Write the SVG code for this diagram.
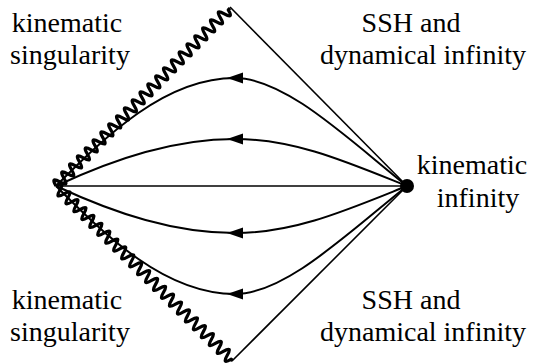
<svg xmlns="http://www.w3.org/2000/svg" width="545" height="364" viewBox="0 0 545 364">
<style>
.t{font-family:"Liberation Serif","Times New Roman",serif;font-size:28px;fill:#000;text-anchor:middle}
.ln{fill:none;stroke:#000;stroke-width:1.6}
.cv{fill:none;stroke:#000;stroke-width:2;marker-mid:url(#arr)}
.zz{fill:none;stroke:#000;stroke-width:3.2;stroke-linejoin:round}
</style>
<defs>
<marker id="arr" markerUnits="userSpaceOnUse" markerWidth="18" markerHeight="12" refX="8" refY="6" orient="auto">
<path d="M0,0.5 L16,6 L0,11.5 z" fill="#000"/>
</marker>
<path id="snake" d="M0,0 q2.8,-11 5.6,0 t5.6,0 t5.6,0 t5.6,0 t5.6,0 t5.6,0 t5.6,0 t5.6,0 t5.6,0 t5.6,0 t5.6,0 t5.6,0 t5.6,0 t5.6,0 t5.6,0 t5.6,0 t5.6,0 t5.6,0 t5.6,0 t5.6,0 t5.6,0 t5.6,0 t5.6,0 t5.6,0 t5.6,0 t5.6,0 t5.6,0 t5.6,0 t5.6,0 t5.6,0 t5.6,0 t5.6,0 t5.6,0 t5.6,0 t5.6,0 t5.6,0 t5.6,0 t5.6,0 t5.6,0 t5.6,0 t5.6,0 t5.6,0 t5.6,0 t5.6,0 L248.9,0"/>
</defs>
<g id="connectors">
<line class="ln" x1="56" y1="186" x2="407" y2="186"/>
<line class="ln" x1="230" y1="7" x2="407" y2="186"/>
<line class="ln" x1="233" y1="360" x2="407" y2="186"/>
<path class="cv" d="M407,186 C347,138 285,78 235,78 C165,78 106,136 56,186"/>
<path class="cv" d="M407,186 C347,162 295,139 235,139 C175,139 116,158 56,186"/>
<path class="cv" d="M407,186 C347,210 295,233 235,233 C175,233 116,214 56,186"/>
<path class="cv" d="M407,186 C347,234 285,294 235,294 C165,294 106,236 56,186"/>
</g>
<g id="singularity-top">
<use href="#snake" class="zz" transform="translate(56,186) rotate(-45.65)"/>
</g>
<g id="singularity-bottom">
<use href="#snake" class="zz" transform="translate(56,186) rotate(44.67)"/>
</g>
<g id="kinematic-infinity">
<circle cx="407" cy="186" r="7" fill="#000"/>
</g>
<g id="label-top-left">
<text class="t" x="67" y="32">kinematic</text>
<text class="t" x="70" y="64">singularity</text>
</g>
<g id="label-top-right">
<text class="t" x="411" y="32">SSH and</text>
<text class="t" x="423" y="64">dynamical infinity</text>
</g>
<g id="label-right">
<text class="t" x="472" y="174">kinematic</text>
<text class="t" x="478" y="207">infinity</text>
</g>
<g id="label-bottom-left">
<text class="t" x="67" y="309">kinematic</text>
<text class="t" x="70" y="341">singularity</text>
</g>
<g id="label-bottom-right">
<text class="t" x="411" y="309">SSH and</text>
<text class="t" x="423" y="341">dynamical infinity</text>
</g>
</svg>
